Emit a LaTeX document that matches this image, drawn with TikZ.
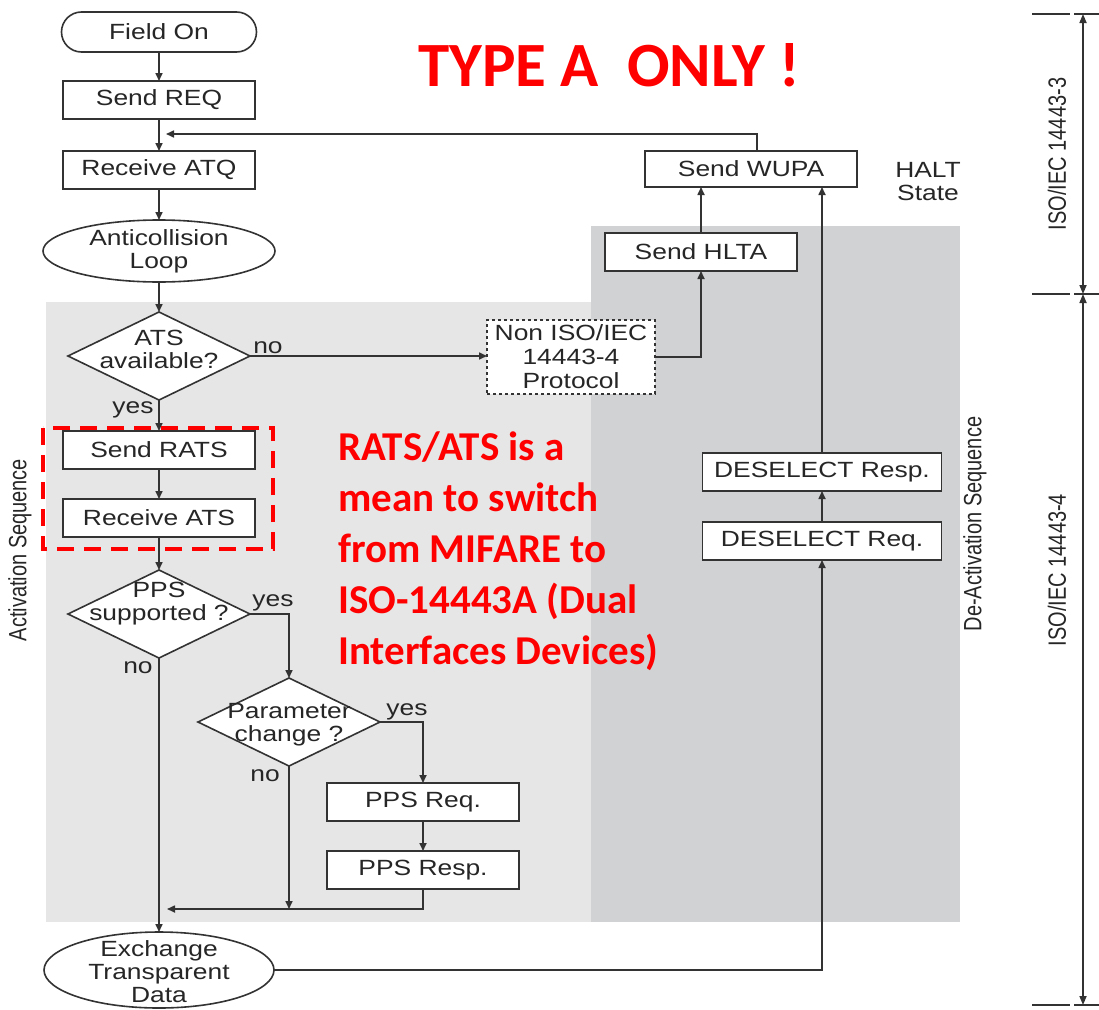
\documentclass[tikz,border=0pt]{standalone}
\usepackage{fontspec}
\setmainfont{Liberation Sans}
\newfontfamily\flowfont[FakeStretch=1.2]{Liberation Sans}
\newfontfamily\sidefont[FakeStretch=0.8]{Liberation Sans}
\newfontfamily\notefont{Carlito}
\usepackage{tikz}
\usetikzlibrary{shapes.geometric,arrows.meta,positioning}
\definecolor{linegray}{HTML}{333333}
\definecolor{actgray}{HTML}{E6E6E6}
\definecolor{deactgray}{HTML}{D1D2D4}
\definecolor{notered}{HTML}{FF0000}

\begin{document}
\begin{tikzpicture}[
    x=1pt, y=-1pt,
    node distance=30pt,
    every node/.style={text=black!85},
    base/.style={draw=linegray, line width=1.6pt, fill=white, outer sep=0pt, font=\flowfont\fontsize{22}{23}\selectfont, align=center},
    terminal/.style={base, rectangle, rounded corners=20pt, minimum width=195pt, minimum height=40pt},
    process/.style={base, rectangle, minimum width=192pt, minimum height=38pt, inner sep=2pt},
    oval/.style={base, ellipse, inner sep=0pt},
    decision/.style={base, diamond, inner sep=0pt, minimum width=182pt, minimum height=88pt},
    flowtext/.style={font=\flowfont\fontsize{22}{23}\selectfont, align=center},
    tag/.style={font=\flowfont\fontsize{22}{23}\selectfont, inner sep=0pt, align=center},
    side/.style={font=\sidefont\fontsize{25}{25}\selectfont, rotate=90, inner sep=0pt},
    arrow/.style={-{Triangle[length=8pt,width=7pt]}, draw=linegray, line width=1.6pt},
    dimline/.style={{Triangle[length=9pt,width=7pt]}-{Triangle[length=9pt,width=7pt]}, draw=linegray, line width=1.6pt}
]
\useasboundingbox (0,0) rectangle (1099,1009);

% shaded sequences
\fill[actgray] (46,302) rectangle (591,922);
\fill[deactgray] (591,226) rectangle (960,922);

% activation column
\node[terminal] (fieldon) at (159,32) {Field On};
\node[process, below=29pt of fieldon] (sendreq) {Send REQ};
\node[process, below=32pt of sendreq] (receiveatq) {Receive ATQ};
\node[oval, minimum width=232pt, minimum height=62pt, below=31pt of receiveatq,
      label={[flowtext]center:Anticollision\\Loop}] (anticoll) {};
\node[decision, below=30pt of anticoll, label={[flowtext, yshift=7pt]center:ATS\\available?}] (atsavail) {};
\node[process, below=31pt of atsavail] (sendrats) {Send RATS};
\node[process, below=30pt of sendrats] (receiveats) {Receive ATS};
\node[decision, below=33pt of receiveats, label={[flowtext, yshift=10pt]center:PPS\\supported ?}] (ppssupp) {};
\node[decision, label={[flowtext, yshift=-3pt]center:Parameter\\change ?}] (paramchg) at (289,722) {};
\node[process] (ppsreq) at (423,802) {PPS Req.};
\node[process, below=30pt of ppsreq] (ppsresp) {PPS Resp.};
\node[oval, minimum width=230pt, minimum height=76pt,
      label={[flowtext, yshift=-2pt]center:Exchange\\Transparent\\Data}] (exchange) at (159,970) {};

% halt / deactivation side
\node[process, dashed, line width=1.2pt, minimum width=168pt, minimum height=74pt, inner sep=1pt,
      font=\flowfont\fontsize{22}{24}\selectfont] (noniso) at (571,357) {Non ISO/IEC\\14443-4\\Protocol};
\node[process] (sendhlta) at (701,252) {Send HLTA};
\node[process, minimum width=212pt, minimum height=36pt] (sendwupa) at (751,169) {Send WUPA};
\node[process, minimum width=239pt] (deselresp) at (822,472) {DESELECT Resp.};
\node[process, minimum width=239pt, below=31pt of deselresp] (deselreq) {DESELECT Req.};
\node[tag] (haltstate) at (928,182) {HALT\\State};

% branch labels
\node[tag] (atsno) at (268,348) {no};
\node[tag] (atsyes) at (133,410) {yes};
\node[tag] (ppsyes) at (273,603) {yes};
\node[tag] (ppsno) at (138,668) {no};
\node[tag] (paramyes) at (407,712) {yes};
\node[tag] (paramno) at (265,776) {no};

% sequence names
\node[side] (actseq) at (20,550) {Activation Sequence};
\node[side] (deactseq) at (975,524) {De-Activation Sequence};
\node[side] (iso3) at (1057,154) {ISO/IEC 14443-3};
\node[side] (iso4) at (1057,570) {ISO/IEC 14443-4};

% red notes
\node[text=notered, inner sep=0pt, font=\notefont\bfseries\fontsize{63}{63}\selectfont] (typeonly) at (609,65) {TYPE A\ \ ONLY !};
\node[text=notered, inner sep=0pt, anchor=west, align=left,
      font=\notefont\bfseries\fontsize{41}{51}\selectfont] (ratsnote) at (338,551)
      {RATS/ATS is a\\mean to switch\\from MIFARE to\\ISO-14443A (Dual\\Interfaces Devices)};
\draw[notered, line width=4pt, dash pattern=on 17pt off 10pt] (43,428) rectangle (273,549);

\coordinate (loopin) at (166,134);
\coordinate (joinno) at (289,909);
\coordinate (joinleft) at (167,909);
\coordinate (isotop) at (1083,14);
\coordinate (isomid) at (1083,294);
\coordinate (isobot) at (1083,1005);

\draw[arrow] (fieldon) -- (sendreq);
\draw[arrow] (sendreq) -- (receiveatq);
\draw[arrow] (receiveatq) -- (anticoll);
\draw[arrow] (anticoll) -- (atsavail);
\draw[arrow] (atsavail) -- (sendrats);
\draw[arrow] (sendrats) -- (receiveats);
\draw[arrow] (receiveats) -- (ppssupp);
\draw[arrow] (ppssupp) -- (exchange);
\draw[arrow] (atsavail.east) -- (atsavail.east -| noniso.west);
\draw[arrow] (ppssupp.east) -| (paramchg.north);
\draw[arrow] (paramchg.east) -| (ppsreq.north);
\draw[arrow] (ppsreq) -- (ppsresp);
\draw[arrow] (paramchg.south) -- (joinno);
\draw[arrow] (ppsresp.south) |- (joinleft);
\draw[arrow] (noniso.east) -| (sendhlta.south);
\draw[arrow] (sendhlta) -- (sendhlta |- sendwupa.south);
\draw[arrow] ([xshift=6pt]sendwupa.north) |- (loopin);
\draw[arrow] (exchange.east) -| (deselreq.south);
\draw[arrow] (deselreq) -- (deselresp);
\draw[arrow] (deselresp) -- (deselresp |- sendwupa.south);

% ISO/IEC scale
\foreach \t in {14,294,1005}
  \draw[linegray, line width=1.2pt, dash pattern=on 38pt off 4pt on 40pt off 0pt] (1032,\t) -- (1099,\t);
\draw[dimline] (isotop) -- (isomid);
\draw[dimline] (isomid) -- (isobot);
\end{tikzpicture}
\end{document}
